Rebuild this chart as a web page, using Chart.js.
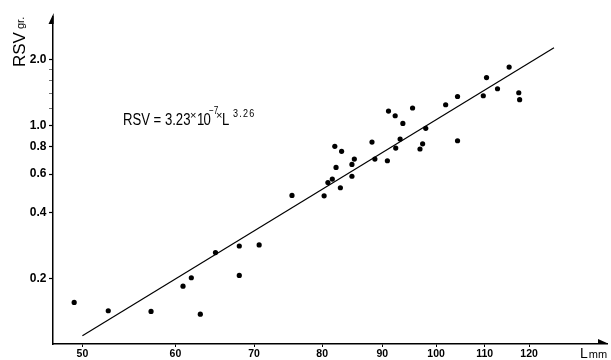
<!DOCTYPE html>
<html><head><meta charset="utf-8">
<script src="https://cdn.jsdelivr.net/npm/chart.js@4"></script>
<style>
html,body{margin:0;padding:0;background:#fff;}
#wrap{position:relative;width:611px;height:360px;overflow:hidden;background:#fff;}
canvas{position:absolute;left:0;top:0;}
.t{position:absolute;white-space:nowrap;color:#000;font-family:'Liberation Sans',Arial,sans-serif;}
.n{transform-origin:0 0;transform:scaleX(0.82);}
</style></head><body>
<div id="wrap">
<canvas id="c" width="611" height="360"></canvas>
<span class="t n" style="left:123px;top:111.5px;font-size:16px;line-height:16px;">RSV = 3.23</span>
<span class="t" style="left:190px;top:109.5px;font-size:11px;line-height:11px;">×</span>
<span class="t n" style="left:197px;top:111.5px;font-size:16px;line-height:16px;letter-spacing:-1px;">10</span>
<span class="t n" style="left:209px;top:106px;font-size:10px;line-height:10px;">−7</span>
<span class="t" style="left:216px;top:109.5px;font-size:11px;line-height:11px;">×</span>
<span class="t n" style="left:222px;top:111.5px;font-size:16px;line-height:16px;">L</span>
<span class="t n" style="left:233px;top:107.7px;font-size:11px;line-height:11px;letter-spacing:1.5px;">3.26</span>
<div class="t" style="left:0;top:0;transform-origin:0 0;transform:translate(11px,67px) rotate(-90deg);font-size:17px;line-height:17px;">RSV<span style="font-size:11px;position:relative;top:-1px;margin-left:3px;">gr.</span></div>
<div class="t" style="left:580px;top:346px;font-size:14px;line-height:14px;">L<span style="font-size:11px;margin-left:1px;">mm</span></div>
</div>
<script>
// ---- data ----
const lengths = [49.2,52.6,57.2,60.9,61.9,63.0,64.9,68.0,68.0,70.7,75.4,80.3,80.9,81.6,82.2,82.9,82.0,83.1,84.8,85.2,84.8,88.2,88.7,90.9,91.1,92.3,92.4,93.2,93.7,95.5,96.9,97.4,98.0,101.9,104.3,104.3,109.7,110.4,112.8,115.4,117.6,117.8];
const rsv = [0.155,0.142,0.141,0.184,0.201,0.137,0.262,0.281,0.206,0.284,0.479,0.477,0.548,0.569,0.643,0.519,0.803,0.762,0.664,0.702,0.586,0.840,0.702,0.690,1.165,1.109,0.789,0.867,1.023,1.203,0.781,0.825,0.971,1.245,1.358,0.852,1.369,1.659,1.474,1.853,1.413,1.313];
const fitL = [50, 126];
const fitRSV = [0.109, 2.27];
const xTicks = [50,60,70,80,90,100,110,120];
const yTicks = [0.2,0.4,0.6,0.8,1.0,1.2,1.4,1.6,1.8,2.0];
const yTickLabels = ['0.2','0.4','0.6','0.8','1.0','','','','','2.0'];

const pts = lengths.map((l,i)=>({x:l,y:rsv[i]}));
const fit = fitL.map((l,i)=>({x:l,y:fitRSV[i]}));

const arrows = {
  id:'arrows',
  afterDraw(chart){
    const {ctx, chartArea:a} = chart;
    ctx.save();
    ctx.fillStyle = '#000';
    ctx.beginPath();
    ctx.moveTo(a.left+0.7, a.top-4);
    ctx.lineTo(a.left-4.5, a.top+7);
    ctx.lineTo(a.left+0.7, a.top+7);
    ctx.closePath(); ctx.fill();
    ctx.beginPath();
    ctx.moveTo(a.right+1, a.bottom-0.5);
    ctx.lineTo(a.right-9, a.bottom-5);
    ctx.lineTo(a.right-9, a.bottom-0.5);
    ctx.closePath(); ctx.fill();
    ctx.restore();
  }
};

new Chart(document.getElementById('c'), {
  type:'scatter',
  data:{datasets:[
    {data:fit, showLine:true, borderColor:'#000', borderWidth:1.2, pointRadius:0, fill:false, order:2},
    {data:pts, backgroundColor:'#000', borderColor:'#000', pointRadius:2.6, pointBorderWidth:0, order:1}
  ]},
  options:{
    responsive:false, animation:false, devicePixelRatio:1,
    layout:{padding:{top:17,right:4,left:0,bottom:0}},
    plugins:{legend:{display:false}, tooltip:{enabled:false}},
    scales:{
      x:{type:'logarithmic', min:47.2, max:139.8,
        afterFit(s){s.height=16;},
        afterBuildTicks(s){s.ticks = xTicks.map(v=>({value:v}));},
        ticks:{autoSkip:false, maxRotation:0, padding:1, color:'#000',
          font:{family:'Liberation Sans', size:10.5, weight:'bold'},
          callback:(v)=>String(v)},
        grid:{drawOnChartArea:false, drawTicks:true, tickLength:3, tickColor:'#000', tickWidth:1},
        border:{display:true, color:'#000', width:1.5}
      },
      y:{type:'logarithmic', min:0.1, max:3.14,
        afterFit(s){s.width=53;},
        afterBuildTicks(s){s.ticks = yTicks.map(v=>({value:v}));},
        ticks:{autoSkip:false, padding:2.5, color:'#000',
          font:{family:'Liberation Sans', size:12, weight:'bold'},
          callback:(v,i)=>yTickLabels[i]},
        grid:{drawOnChartArea:false, drawTicks:true, tickLength:4,
          tickColor:(c)=> (yTickLabels[c.index] ? '#000' : 'rgba(0,0,0,0.55)'),
          tickWidth:(c)=> (yTickLabels[c.index] ? 1.2 : 1)},
        border:{display:true, color:'#000', width:1.5}
      }
    }
  },
  plugins:[arrows]
});
</script>
</body></html>
